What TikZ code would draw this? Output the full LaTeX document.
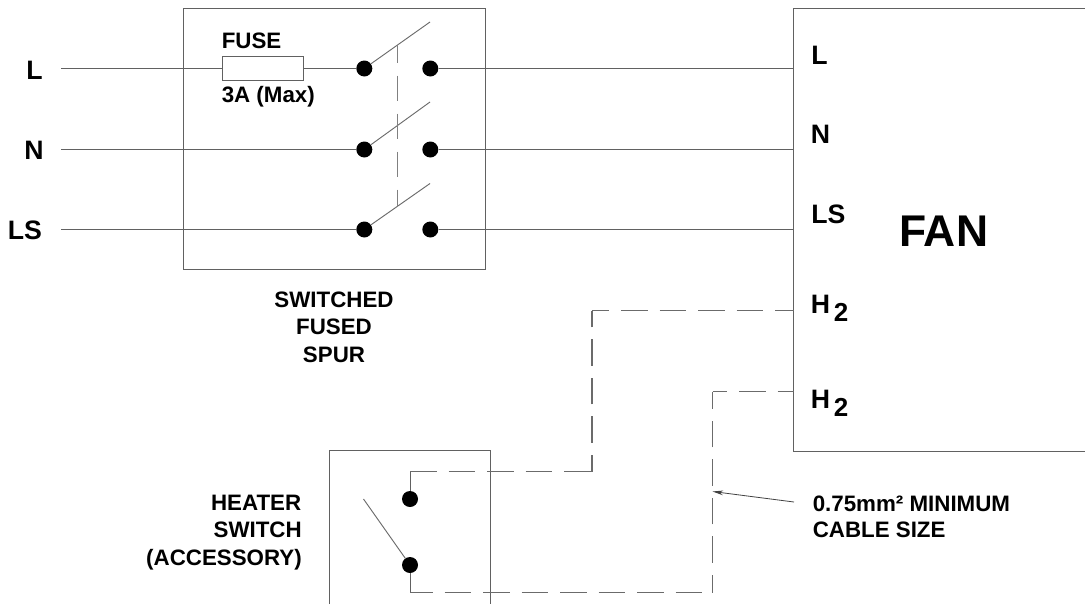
\documentclass[tikz,border=0pt]{standalone}
\usepackage{fontspec}
\setmainfont{Liberation Sans}
\usetikzlibrary{arrows.meta}
\tikzset{
  x=0.75pt,y=-0.75pt,
  wire/.style={draw=black!62,line width=0.75pt},
  thinwire/.style={draw=black!58,line width=0.7pt},
  dashwire/.style={draw=black!58,line width=0.8pt,dash pattern=on 19.9pt off 9pt},
  ganged/.style={draw=black!50,line width=0.75pt,dash pattern=on 19.1pt off 9.4pt,dash phase=5.6pt},
  contact/.style={circle,fill=black,draw=none,minimum size=12pt,inner sep=0pt},
  fusebox/.style={rectangle,draw=black!62,fill=white,line width=0.7pt,minimum width=60.75pt,minimum height=18pt,inner sep=0pt},
  lab/.style={inner sep=0pt,anchor=base west,text=black,font=\bfseries\fontsize{16.75}{20}\selectfont},
  rlab/.style={lab,anchor=base east},
  clab/.style={lab,anchor=base},
  biglab/.style={lab,font=\bfseries\fontsize{20}{24}\selectfont},
  sublab/.style={lab,font=\bfseries\fontsize{19.5}{24}\selectfont},
  fanlab/.style={lab,font=\bfseries\fontsize{33.3}{38}\selectfont},
}
\begin{document}
\begin{tikzpicture}
\useasboundingbox (0,0) rectangle (1085,604);
% terminals
\coordinate (inL) at (61,68.5);
\coordinate (inN) at (61,149.5);
\coordinate (inLS) at (61,229.5);
\coordinate (outL) at (793.5,68.5);
\coordinate (outN) at (793.5,149.5);
\coordinate (outLS) at (793.5,229.5);
\coordinate (outH1) at (793.5,310.5);
\coordinate (outH2) at (793.5,391.5);
% fuse and contacts
\node[fusebox] (fuse) at (263,68.5) {};
\node[contact] (a1) at (364.3,68.5) {};
\node[contact] (a2) at (364.3,149.5) {};
\node[contact] (a3) at (364.3,229.5) {};
\node[contact] (b1) at (430.3,68.5) {};
\node[contact] (b2) at (430.3,149.5) {};
\node[contact] (b3) at (430.3,229.5) {};
\node[contact] (h1) at (410,499) {};
\node[contact] (h2) at (410,565) {};
% arm tips
\coordinate (t1) at (430,22);
\coordinate (t2) at (430,102);
\coordinate (t3) at (430,183.5);
\coordinate (t4) at (363.5,499);
% boxes
\draw[wire] (183.5,8.5) rectangle (485.5,269.5);
\draw[wire] (1085,8.5) -- (793.5,8.5) -- (793.5,451.5) -- (1085,451.5);
\draw[wire] (329.5,604) -- (329.5,450.5) -- (490.5,450.5) -- (490.5,604);
% wires
\draw[wire] (inL) -- (fuse.west);
\draw[wire] (fuse.east) -- (a1);
\draw[wire] (inN) -- (a2);
\draw[wire] (inLS) -- (a3);
\draw[wire] (b1) -- (outL);
\draw[wire] (b2) -- (outN);
\draw[wire] (b3) -- (outLS);
% switch arms
\draw[thinwire] (a1) -- (t1);
\draw[thinwire] (a2) -- (t2);
\draw[thinwire] (a3) -- (t3);
\draw[thinwire] (h2) -- (t4);
% ganged link
\coordinate (g1) at (397.5,45);
\coordinate (g2) at (397.5,207);
\draw[ganged] (g1) -- (g2);
% heater wiring
\coordinate (c1) at (410,471.5);
\coordinate (c2) at (592,471.5);
\coordinate (c3) at (592,310.5);
\coordinate (d1) at (410,592.5);
\coordinate (d2) at (712.5,592.5);
\coordinate (d3) at (712.5,391.5);
\draw[wire] (h1) -- (c1);
\draw[wire] (h2) -- (d1);
\draw[dashwire] (c1) -- (c2);
\draw[dashwire,dash phase=7.5pt] (c2) -- (c3);
\draw[dashwire,dash phase=7.1pt] (c3) -- (outH1);
\draw[dashwire,dash phase=3pt] (d1) -- (d2);
\draw[dashwire,dash phase=6.75pt] (d2) -- (d3);
\draw[dashwire,dash phase=9pt] (d3) -- (outH2);
% pointer
\coordinate (ptip) at (712.5,491.5);
\coordinate (ptail) at (794,502);
\draw[draw=black!75,line width=0.6pt,-{Stealth[length=8pt,width=3.5pt]}] (ptail) -- (ptip);
% text
\node[biglab] (tL) at (26,79) {L};
\node[biglab] (tN) at (24,159) {N};
\node[biglab] (tLS) at (7.5,239) {LS};
\node[lab] (tFuse) at (221.5,48.5) {FUSE};
\node[lab] (tMax) at (221.5,102.5) {3A (Max)};
\node[clab] (s1) at (334,307.7) {SWITCHED};
\node[clab] (s2) at (334,334.7) {FUSED};
\node[clab] (s3) at (334,362) {SPUR};
\node[biglab] (fL) at (811,64.5) {L};
\node[biglab] (fN) at (810.5,143.5) {N};
\node[biglab] (fLS) at (811,223) {LS};
\node[fanlab] (fan) at (899,246.7) {FAN};
\node[biglab] (h21) at (810.5,313) {H};
\node[biglab] (h22) at (810.5,408) {H};
\node[sublab] (s21) at (833.5,321.7) {2};
\node[sublab] (s22) at (833.5,416.5) {2};
\node[lab] (m1) at (812.5,511.2) {0.75mm² MINIMUM};
\node[lab] (m2) at (812.5,537.8) {CABLE SIZE};
\node[rlab] (w1) at (301.5,510.7) {HEATER};
\node[rlab] (w2) at (302,537.7) {SWITCH};
\node[rlab] (w3) at (302,565) {(ACCESSORY)};
\end{tikzpicture}
\end{document}
